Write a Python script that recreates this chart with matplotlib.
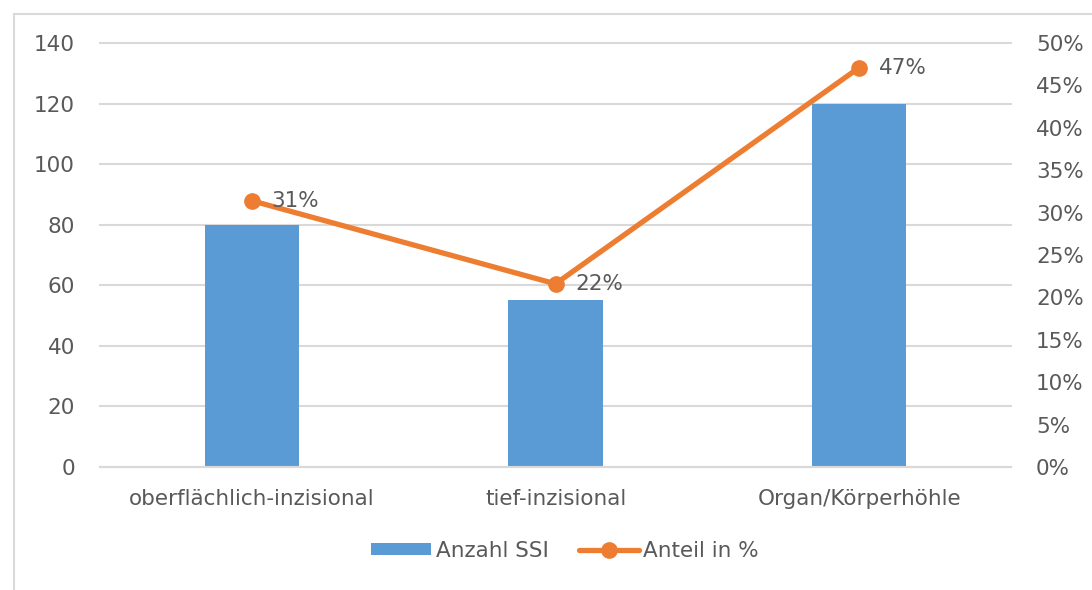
import matplotlib
matplotlib.use("Agg")
import matplotlib.pyplot as plt
from matplotlib.patches import Rectangle
from matplotlib.ticker import FuncFormatter, MultipleLocator

categories = ["oberflächlich-inzisional", "tief-inzisional", "Organ/Körperhöhle"]
anzahl_ssi = [80, 55, 120]
anteil_pct = [31.4, 21.6, 47.1]
anteil_labels = ["31%", "22%", "47%"]

BLUE = "#5B9BD5"
ORANGE = "#ED7D31"
TEXT = "#595959"
GRID = "#D9D9D9"
FS = 15.5

plt.rcParams["font.family"] = ["DejaVu Sans"]

fig = plt.figure(figsize=(10.92, 5.90), dpi=100)
fig.patches.append(Rectangle((14 / 1092, -0.1), 1.2, 1 - 14 / 590 + 0.1,
                             transform=fig.transFigure, fill=False,
                             edgecolor="#D9D9D9", linewidth=1.5))

ax = fig.add_axes([100 / 1092, 1 - 467 / 590, 911 / 1092, 424 / 590])
x = list(range(len(categories)))
bars = ax.bar(x, anzahl_ssi, width=0.31, color=BLUE, zorder=2, label="Anzahl SSI")
ax.set_xlim(-0.5, 2.5)
ax.set_ylim(0, 140)
ax.yaxis.set_major_locator(MultipleLocator(20))
ax.grid(axis="y", color=GRID, linewidth=1.5, zorder=0)
for gl in ax.get_ygridlines():
    gl.set_clip_on(False)
ax.set_axisbelow(True)
for s in ax.spines.values():
    s.set_visible(False)
ax.spines["bottom"].set_visible(True)
ax.spines["bottom"].set_color(GRID)
ax.spines["bottom"].set_linewidth(1.5)
ax.set_xticks(x)
ax.set_xticklabels(categories)
ax.tick_params(axis="x", length=0, labelsize=FS, colors=TEXT, pad=16)
ax.tick_params(axis="y", length=0, labelsize=FS, colors=TEXT, pad=18)

ax2 = ax.twinx()
ax2.set_ylim(0, 50)
ax2.yaxis.set_major_locator(MultipleLocator(5))
ax2.yaxis.set_major_formatter(FuncFormatter(lambda v, p: f"{int(round(v))}%"))
for s in ax2.spines.values():
    s.set_visible(False)
ax2.tick_params(axis="y", length=0, labelsize=FS, colors=TEXT, pad=18)
line, = ax2.plot(x, anteil_pct, color=ORANGE, linewidth=3.8, marker="o",
                 markersize=11, solid_capstyle="round", zorder=3, label="Anteil in %")
for xi, yi, lab in zip(x, anteil_pct, anteil_labels):
    ax2.annotate(lab, (xi, yi), xytext=(14, 0), textcoords="offset points",
                 ha="left", va="center", fontsize=FS, color=TEXT)

leg = fig.legend([bars, line], ["Anzahl SSI", "Anteil in %"], loc="center",
                 bbox_to_anchor=(565 / 1092, 1 - 551 / 590), ncol=2, frameon=False,
                 fontsize=FS, labelcolor=TEXT, handlelength=2.8, handleheight=0.5,
                 columnspacing=1.4, handletextpad=0.2)

fig.savefig("out.png", dpi=100)
